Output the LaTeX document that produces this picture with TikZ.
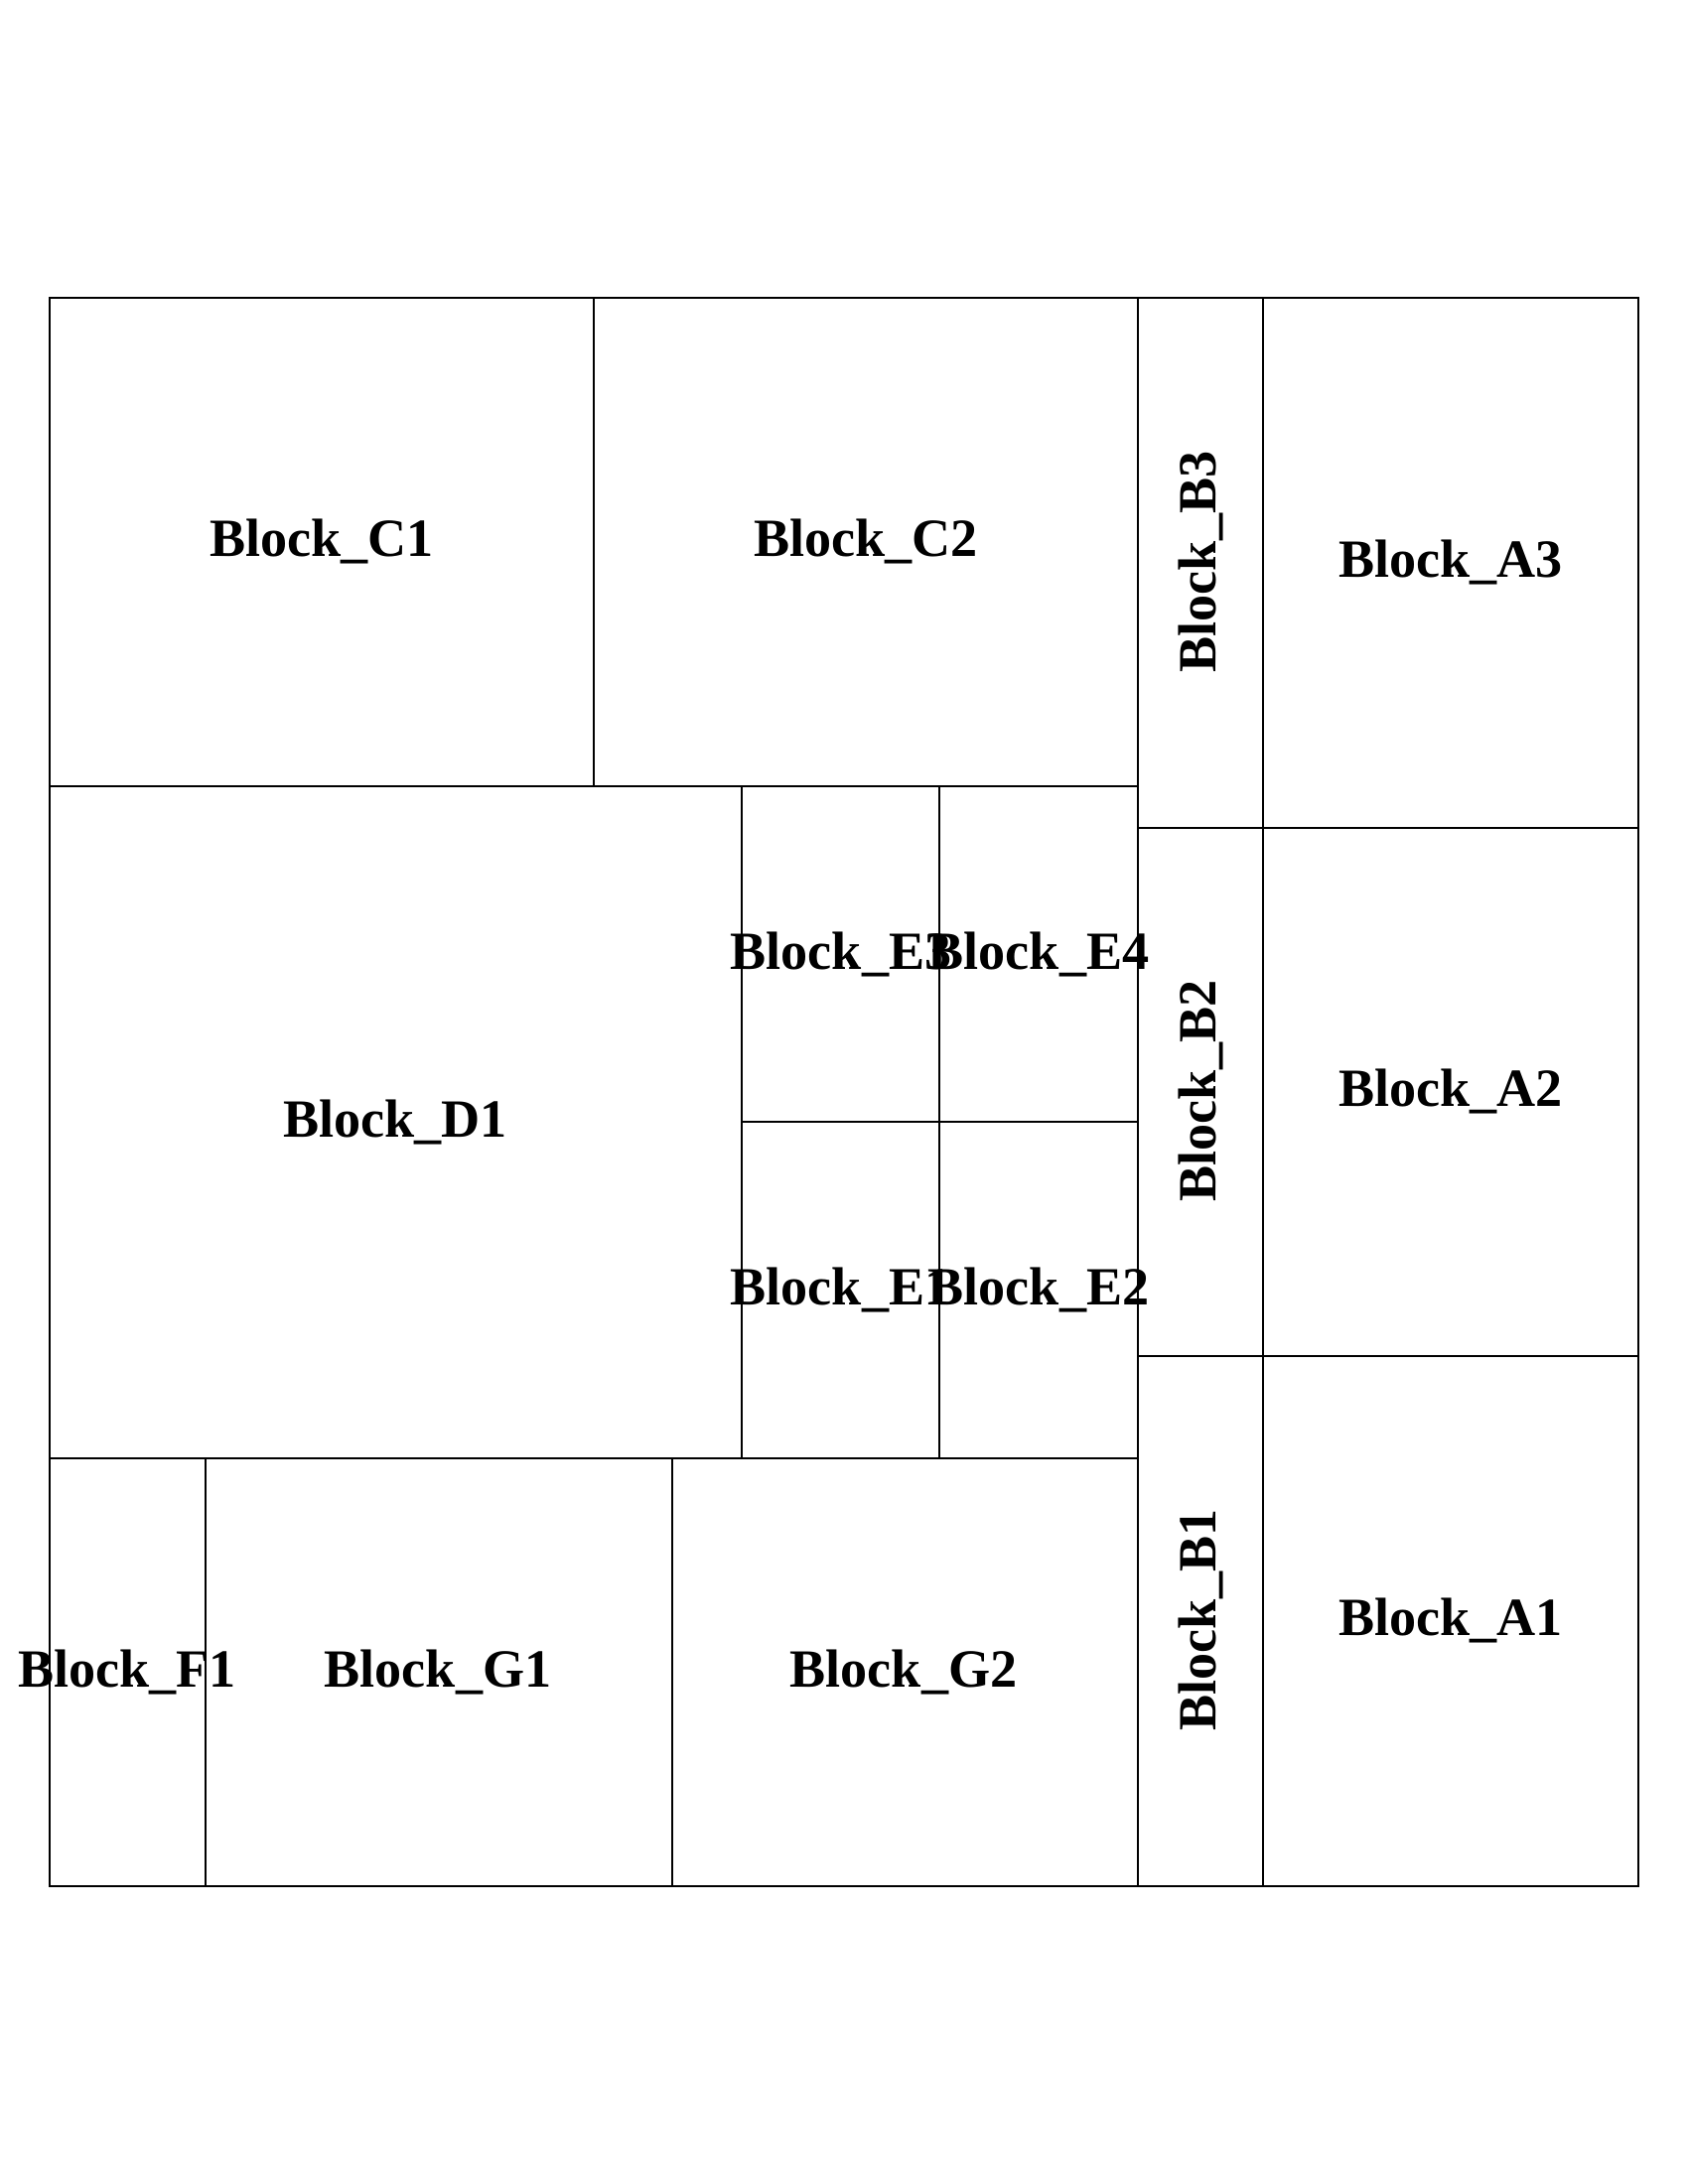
\documentclass[tikz,border=0pt]{standalone}
\usepackage{fontspec}
\setmainfont{Liberation Serif}
\usetikzlibrary{fit}
\tikzset{
  blockbox/.style={draw=black, line width=0.75pt, inner sep=0pt, rectangle},
  lbl/.style={inner sep=0pt, font=\fontsize{15.4}{18}\selectfont\bfseries, text=black},
}
\begin{document}
\begin{tikzpicture}[x=0.01cm, y=-0.01cm]
\useasboundingbox (0,0) rectangle (1700,2200);
% labels
\node[lbl] (tC1) at (324,545) {Block\_C1};
\node[lbl] (tC2) at (872,545) {Block\_C2};
\node[lbl, rotate=90] (tB3) at (1209,566) {Block\_B3};
\node[lbl] (tA3) at (1461,566) {Block\_A3};
\node[lbl, rotate=90] (tB2) at (1209,1099) {Block\_B2};
\node[lbl] (tA2) at (1461,1099) {Block\_A2};
\node[lbl, rotate=90] (tB1) at (1209,1632) {Block\_B1};
\node[lbl] (tA1) at (1461,1632) {Block\_A1};
\node[lbl] (tD1) at (398,1130) {Block\_D1};
\node[lbl] (tE3) at (847,961) {Block\_E3};
\node[lbl] (tE4) at (1046,961) {Block\_E4};
\node[lbl] (tE1) at (847,1299) {Block\_E1};
\node[lbl] (tE2) at (1046,1299) {Block\_E2};
\node[lbl] (tF1) at (128,1684) {Block\_F1};
\node[lbl] (tG1) at (441,1684) {Block\_G1};
\node[lbl] (tG2) at (910,1684) {Block\_G2};
% boxes
\node[blockbox, fit={(50,300) (598,792)}] (C1) {};
\node[blockbox, fit={(598,300) (1146,792)}] (C2) {};
\node[blockbox, fit={(1146,300) (1272,834)}] (B3) {};
\node[blockbox, fit={(1272,300) (1650,834)}] (A3) {};
\node[blockbox, fit={(1146,834) (1272,1366)}] (B2) {};
\node[blockbox, fit={(1272,834) (1650,1366)}] (A2) {};
\node[blockbox, fit={(1146,1366) (1272,1900)}] (B1) {};
\node[blockbox, fit={(1272,1366) (1650,1900)}] (A1) {};
\node[blockbox, fit={(50,792) (747,1469)}] (D1) {};
\node[blockbox, fit={(747,792) (946,1130)}] (E3) {};
\node[blockbox, fit={(946,792) (1146,1130)}] (E4) {};
\node[blockbox, fit={(747,1130) (946,1469)}] (E1) {};
\node[blockbox, fit={(946,1130) (1146,1469)}] (E2) {};
\node[blockbox, fit={(50,1469) (207,1900)}] (F1) {};
\node[blockbox, fit={(207,1469) (677,1900)}] (G1) {};
\node[blockbox, fit={(677,1469) (1146,1900)}] (G2) {};
\end{tikzpicture}
\end{document}
